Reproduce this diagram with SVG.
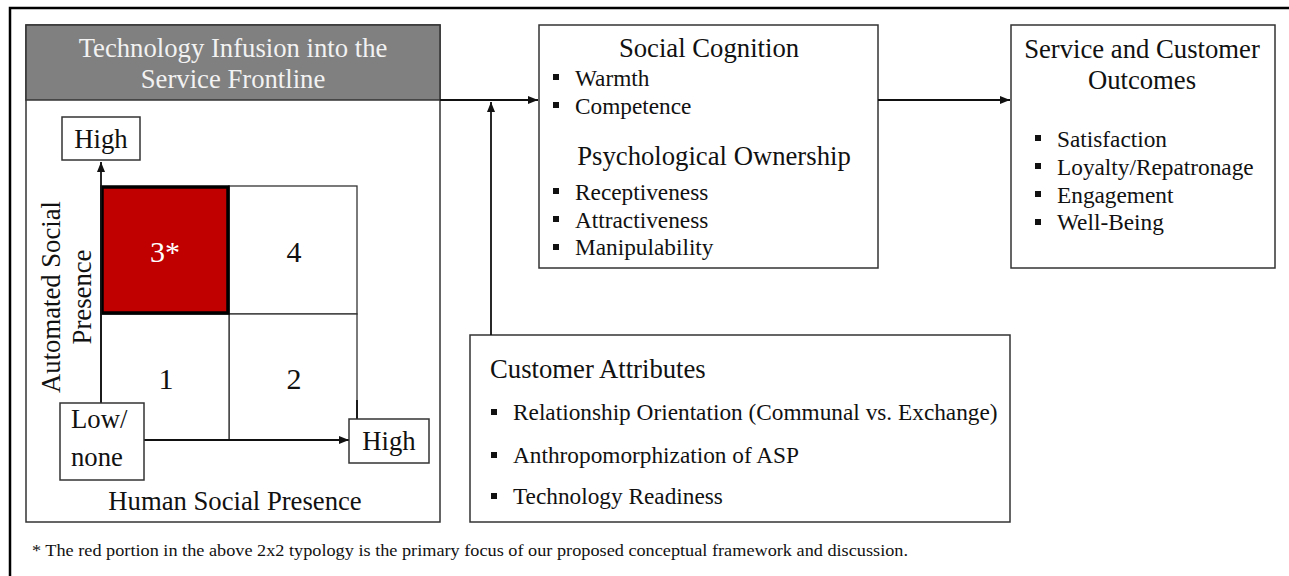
<svg xmlns="http://www.w3.org/2000/svg" width="1289" height="576" viewBox="0 0 1289 576">
<style>
text{font-family:"Liberation Serif","Times New Roman",serif;fill:#111}
.t{font-size:26.7px}
.b{font-size:23.3px}
.n{font-size:30px}
.box{fill:#fff;stroke:#333;stroke-width:1.5}
.ln{stroke:#111;stroke-width:1.8;fill:none}
.blt{fill:#111}
</style>
<defs>
<marker id="ah" viewBox="0 0 10 10" refX="10" refY="5" markerWidth="10" markerHeight="10" markerUnits="userSpaceOnUse" orient="auto">
<path d="M0,1 L10,5 L0,9 Z" fill="#111"/>
</marker>
</defs>
<rect width="1289" height="576" fill="#fff"/>
<path d="M10,576 V8 H1289" fill="none" stroke="#000" stroke-width="2.5"/>

<g id="typology">
<rect class="box" x="26" y="25" width="414" height="497"/>
<rect x="26" y="25" width="414" height="75" fill="#808080" stroke="#333" stroke-width="1.5"/>
<text class="t" x="233" y="57" text-anchor="middle" style="fill:#f2f2f2">Technology Infusion into the</text>
<text class="t" x="233" y="88" text-anchor="middle" style="fill:#f2f2f2">Service Frontline</text>
<rect x="229" y="186" width="128" height="128" fill="#fff" stroke="#333" stroke-width="1.3"/>
<rect x="229" y="314" width="128" height="126" fill="#fff" stroke="#333" stroke-width="1.3"/>
<rect x="101" y="314" width="128" height="126" fill="#fff" stroke="#333" stroke-width="1.3"/>
<rect x="102" y="187" width="126" height="126" fill="#c00000" stroke="#000" stroke-width="3.5"/>
<text class="n" x="165" y="262" text-anchor="middle" style="fill:#fff">3*</text>
<text class="n" x="294" y="262" text-anchor="middle">4</text>
<text class="n" x="166" y="389" text-anchor="middle">1</text>
<text class="n" x="294" y="389" text-anchor="middle">2</text>
<line class="ln" x1="101" y1="403" x2="101" y2="162" marker-end="url(#ah)"/>
<line class="ln" x1="144" y1="440" x2="349" y2="440" marker-end="url(#ah)"/>
<line class="ln" x1="357" y1="400" x2="357" y2="419"/>
<rect class="box" x="62" y="117" width="78" height="43"/>
<text class="t" x="101" y="148" text-anchor="middle">High</text>
<rect class="box" x="60" y="403" width="84" height="77"/>
<text class="t" x="71" y="428">Low/</text>
<text class="t" x="71" y="466">none</text>
<rect class="box" x="349" y="419" width="80" height="44"/>
<text class="t" x="389" y="450" text-anchor="middle">High</text>
<text class="t" transform="translate(60,297) rotate(-90)" text-anchor="middle">Automated Social</text>
<text class="t" transform="translate(91,297) rotate(-90)" text-anchor="middle">Presence</text>
<text class="t" x="235" y="510" text-anchor="middle">Human Social Presence</text>
</g>

<g id="social-cognition">
<rect class="box" x="539" y="25" width="339" height="243"/>
<text class="t" x="709" y="57" text-anchor="middle">Social Cognition</text>
<rect class="blt" x="553" y="74" width="6" height="6"/>
<text class="b" x="575" y="86">Warmth</text>
<rect class="blt" x="553" y="102" width="6" height="6"/>
<text class="b" x="575" y="114">Competence</text>
<text class="t" x="714" y="165" text-anchor="middle">Psychological Ownership</text>
<rect class="blt" x="553" y="188" width="6" height="6"/>
<text class="b" x="575" y="200">Receptiveness</text>
<rect class="blt" x="553" y="216" width="6" height="6"/>
<text class="b" x="575" y="228">Attractiveness</text>
<rect class="blt" x="553" y="244" width="6" height="6"/>
<text class="b" x="575" y="255">Manipulability</text>
</g>

<g id="outcomes">
<rect class="box" x="1011" y="25" width="264" height="243"/>
<text class="t" x="1142" y="58" text-anchor="middle">Service and Customer</text>
<text class="t" x="1142" y="89" text-anchor="middle">Outcomes</text>
<rect class="blt" x="1035" y="135" width="6" height="6"/>
<text class="b" x="1057" y="147">Satisfaction</text>
<rect class="blt" x="1035" y="163" width="6" height="6"/>
<text class="b" x="1057" y="175">Loyalty/Repatronage</text>
<rect class="blt" x="1035" y="191" width="6" height="6"/>
<text class="b" x="1057" y="203">Engagement</text>
<rect class="blt" x="1035" y="219" width="6" height="6"/>
<text class="b" x="1057" y="230">Well-Being</text>
</g>

<g id="customer-attributes">
<rect class="box" x="470" y="335" width="540" height="187"/>
<text class="t" x="490" y="378">Customer Attributes</text>
<rect class="blt" x="491" y="409" width="6" height="6"/>
<text class="b" x="513" y="420">Relationship Orientation (Communal vs. Exchange)</text>
<rect class="blt" x="491" y="452" width="6" height="6"/>
<text class="b" x="513" y="463">Anthropomorphization of ASP</text>
<rect class="blt" x="491" y="493" width="6" height="6"/>
<text class="b" x="513" y="504">Technology Readiness</text>
</g>

<g id="connectors">
<line class="ln" x1="440" y1="100" x2="538" y2="100" marker-end="url(#ah)"/>
<line class="ln" x1="491" y1="335" x2="491" y2="102" marker-end="url(#ah)"/>
<line class="ln" x1="878" y1="100" x2="1010" y2="100" marker-end="url(#ah)"/>
</g>

<text x="32" y="556" textLength="876" lengthAdjust="spacingAndGlyphs" style="font-size:17.5px">* The red portion in the above 2x2 typology is the primary focus of our proposed conceptual framework and discussion.</text>
</svg>
